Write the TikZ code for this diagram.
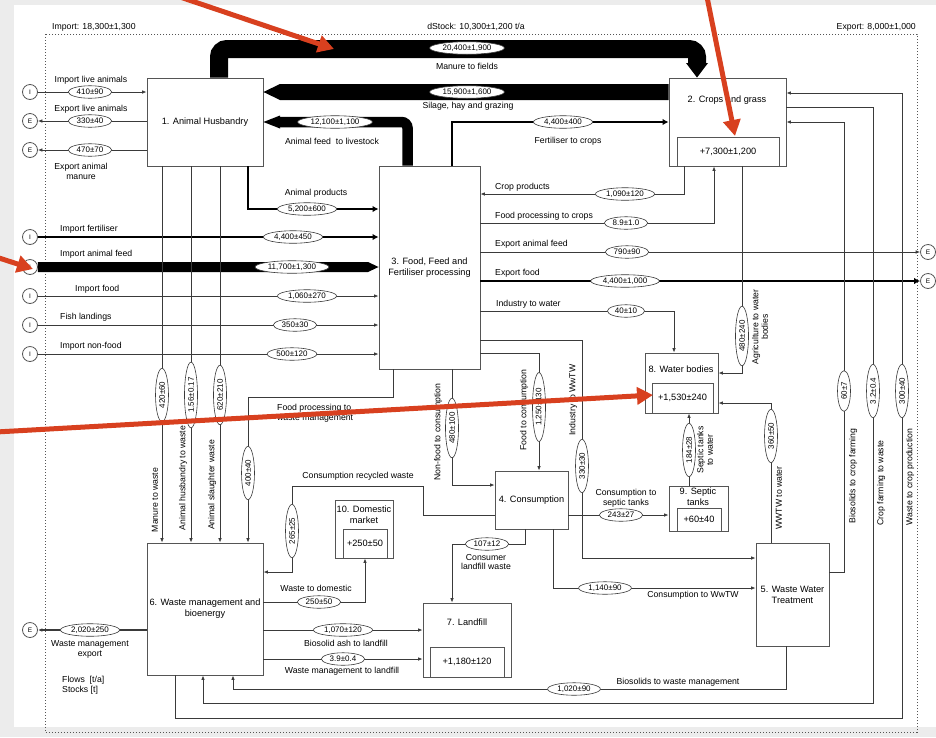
\documentclass[tikz,border=0pt]{standalone}
\usepackage{fontspec}
\setmainfont{Liberation Sans}
\usetikzlibrary{arrows.meta,shapes.geometric}
\definecolor{ln}{HTML}{3A3A3A}
\definecolor{bx}{HTML}{555555}
\definecolor{redc}{HTML}{D8401F}
\definecolor{bgc}{HTML}{ECECEC}
\newcommand\lblf{\fontsize{8}{8.5}\selectfont}
\newcommand\txtf{\fontsize{8.7}{9.6}\selectfont}
\newcommand\ntxf{\fontsize{9.2}{10.8}\selectfont}
\begin{document}
\begin{tikzpicture}[x=1pt,y=-1pt,
  box/.style={draw=bx, line width=0.9pt, fill=white, inner sep=0pt, font=\ntxf, align=center},
  circ/.style={circle, draw=bx, line width=0.8pt, minimum size=15pt, inner sep=0pt, font=\fontsize{6.5}{6.5}\selectfont, fill=white},
  fl/.style={draw=ln, line width=0.8pt},
  fla/.style={fl, -{Latex[length=4.5pt,width=3.6pt]}},
  flt/.style={draw=black, line width=2.6pt, -{Latex[length=6pt,width=6.5pt]}},
  lab/.style={ellipse, draw=ln, line width=0.6pt, fill=white, inner xsep=2pt, inner ysep=0pt, minimum height=12.5pt, font=\lblf},
  vlab/.style={lab, rotate=90, inner xsep=5.5pt, minimum height=13pt},
  tx/.style={font=\txtf, inner sep=0pt, align=center},
  vtx/.style={tx, rotate=90},
  redarr/.style={draw=redc, line width=5pt, -{Triangle[length=16pt,width=17pt]}}]
\useasboundingbox (0,0) rectangle (936,737);
\fill[bgc] (0,0) rectangle (936,737);
\fill[white] (14,5) rectangle (936,727);
\draw[bx, line width=0.9pt, dash pattern=on 1.2pt off 1.8pt] (45,34) rectangle (917,732);
% header
\node[tx, anchor=west] (himp) at (52,27) {Import: 18,300±1,300};
\node[tx] (hst) at (476,27) {dStock: 10,300±1,200 t/a};
\node[tx, anchor=east] (hexp) at (916,27) {Export: 8,000±1,000};
% boxes
\node[box, minimum width=116pt, minimum height=88pt] (n1) at (205,122) {1. Animal Husbandry};
\node[box, minimum width=117pt, minimum height=88pt] (n2) at (727.5,122) {};
\node[tx, font=\ntxf] (t2) at (727,100) {2. Crops and grass};
\node[box, minimum width=102pt, minimum height=29pt] (s2) at (728,151.5) {+7,300±1,200};
\node[box, minimum width=101pt, minimum height=203pt] (n3) at (429.5,267.5) {3. Food, Feed and\\Fertiliser processing};
\node[box, minimum width=73pt, minimum height=58pt] (n4) at (531.5,500) {4. Consumption};
\node[box, minimum width=73pt, minimum height=103pt] (n5) at (792.5,594.5) {5. Waste Water\\Treatment};
\node[box, minimum width=116pt, minimum height=132pt] (n6) at (205,609) {6. Waste management and\\bioenergy};
\node[box, minimum width=88pt, minimum height=74pt] (n7) at (467,640) {};
\node[tx, font=\ntxf] (t7) at (467,622) {7. Landfill};
\node[box, minimum width=74pt, minimum height=30pt] (s7) at (467,662) {+1,180±120};
\node[box, minimum width=73pt, minimum height=60pt] (n8) at (681.5,383) {};
\node[tx, font=\ntxf] (t8) at (681,369) {8. Water bodies};
\node[box, minimum width=61pt, minimum height=30pt] (s8) at (682.5,398) {+1,530±240};
\node[box, minimum width=59pt, minimum height=45pt] (n9) at (698.5,508.5) {};
\node[tx, font=\ntxf] (t9) at (698,497) {9. Septic\\tanks};
\node[box, minimum width=44pt, minimum height=23pt] (s9) at (699,519.5) {+60±40};
\node[box, minimum width=58pt, minimum height=58pt] (n10) at (364,529) {};
\node[tx, font=\ntxf] (t10) at (364,515) {10. Domestic\\market};
\node[box, minimum width=44pt, minimum height=29pt] (s10) at (365,543.5) {+250±50};
% circles
\node[circ] (iLive) at (30,92) {I};
\node[circ] (eLive) at (30,121) {E};
\node[circ] (eMan) at (30,150) {E};
\node[circ] (iFert) at (30,237) {I};
\node[circ] (iFeed) at (30,267) {I};
\node[circ] (iFood) at (30,296) {I};
\node[circ] (iFish) at (30,325) {I};
\node[circ] (iNon) at (30,354) {I};
\node[circ] (eWM) at (30,630) {E};
\node[circ] (eFeed) at (928,252) {E};
\node[circ] (eFood) at (928,281) {E};
% thick bands
\draw[black, line width=18pt, rounded corners=8pt] (219,0 |- n1.north) -- (219,49) -- (697,49) -- (697,64);
\fill[black] (686,63) -- (708,63) -- (697,0 |- n2.north) -- cycle;
\fill[black] (n2.west |- 0,84) -- (280,84) -- (n1.east |- 0,92) -- (280,100) -- (n2.west |- 0,100) -- cycle;
\draw[black, line width=10.5pt, rounded corners=6pt] (407.5,0 |- n3.north) -- (407.5,122) -- (279,122);
\fill[black] (280,115.5) -- (n1.east |- 0,122) -- (280,128.5) -- cycle;
\fill[black] (iFeed.east |- 0,262) -- (368,262) -- (n3.west |- 0,267) -- (368,272) -- (iFeed.east |- 0,272) -- cycle;
% medium flows
\draw[flt] (248,0 |- n1.south) |- (n3.west |- 0,209);
\draw[flt] (iFert) -- (n3.west |- iFert);
\draw[flt] (452,0 |- n3.north) |- (n2.west |- 0,122);
\draw[flt] (n3.east |- eFood) -- (eFood);
% thin flows left
\draw[fla] (iLive) -- (n1.west |- iLive);
\draw[fla] (n1.west |- eLive) -- (eLive);
\draw[fla] (n1.west |- eMan) -- (eMan);
\draw[fla] (iFood) -- (n3.west |- iFood);
\draw[fla] (iFish) -- (n3.west |- iFish);
\draw[fla] (iNon) -- (n3.west |- iNon);
\draw[fla] (162,0 |- n1.south) -- (162,0 |- n6.north);
\draw[fla] (191,0 |- n1.south) -- (191,0 |- n6.north);
\draw[fla] (220,0 |- n1.south) -- (220,0 |- n6.north);
\draw[fla] (393,0 |- n3.south) -- (393,397) -| (248,0 |- n6.north);
% node 3 right side
\draw[fla] (684,0 |- n2.south) |- (n3.east |- 0,194);
\draw[fla] (n3.east |- 0,223) -| (714,0 |- n2.south);
\draw[fla] (n3.east |- eFeed) -- (eFeed);
\draw[fla] (n3.east |- 0,311) -| (674,0 |- n8.north);
\draw[fla] (n3.east |- 0,340) -- (582,340) |- (n5.west |- 0,558);
\draw[fla] (n3.east |- 0,353) -| (539,0 |- n4.north);
\draw[fla] (452,0 |- n3.south) |- (n4.west |- 0,485);
% water
\draw[fla] (742,0 |- n2.south) |- (n8.east |- 0,373);
\draw[fla] (771,0 |- n5.north) |- (n8.east |- 0,403);
\draw[fla] (689,0 |- n9.north) -- (689,0 |- n8.south);
% consumption
\draw[fla] (n4.east |- 0,515) -- (n9.west |- 0,515);
\draw[fla] (553,0 |- n4.south) |- (n5.west |- 0,588);
\draw[fla] (525,0 |- n4.south) -- (525,544) -| (452,0 |- n7.north);
\draw[fla] (n4.west |- 0,515) -| (423,486) -| (292,572) -- (n6.east |- 0,572);
% waste management
\draw[fla] (n6.east |- 0,602) -| (365,0 |- n10.south);
\draw[fla] (n6.east |- 0,630) -- (n7.west |- 0,630);
\draw[fla] (n6.east |- 0,659) -- (n7.west |- 0,659);
\draw[fla, line width=1.4pt] (n6.west |- eWM) -- (eWM);
\draw[fla] (786,0 |- n5.south) |- (233,689) -- (233,0 |- n6.south);
\draw[fla] (n5.east |- 0,572) -| (844,122) -- (n2.east |- 0,122);
\draw[fla] (n2.east |- 0,107) -| (873,703) -| (203,0 |- n6.south);
\draw[fla] (175,0 |- n6.south) |- (902,718) |- (n2.east |- 0,93);
% labels horizontal
\node[lab] (l1) at (90,92) {410±90};
\node[lab] (l2) at (90,121) {330±40};
\node[lab] (l3) at (90,150) {470±70};
\node[lab] (l4) at (467,48) {20,400±1,900};
\node[lab] (l5) at (467,92) {15,900±1,600};
\node[lab] (l6) at (335,122) {12,100±1,100};
\node[lab] (l7) at (563,122) {4,400±400};
\node[lab] (l8) at (307,209) {5,200±600};
\node[lab] (l9) at (293,237) {4,400±450};
\node[lab] (l10) at (292,267) {11,700±1,300};
\node[lab] (l11) at (307,296) {1,060±270};
\node[lab] (l12) at (295,325) {350±30};
\node[lab] (l13) at (292,354) {500±120};
\node[lab] (l14) at (625,194) {1,090±120};
\node[lab] (l15) at (626,223) {8.9±1.0};
\node[lab] (l16) at (627,252) {790±90};
\node[lab] (l17) at (625,281) {4,400±1,000};
\node[lab] (l18) at (626,311) {40±10};
\node[lab] (l19) at (621,515) {243±27};
\node[lab] (l20) at (487,544) {107±12};
\node[lab] (l21) at (605,588) {1,140±90};
\node[lab] (l22) at (319,602) {250±50};
\node[lab] (l23) at (343,630) {1,070±120};
\node[lab] (l24) at (343,659) {3.9±0.4};
\node[lab] (l25) at (90,630) {2,020±250};
\node[lab] (l26) at (574,689) {1,020±90};
% labels vertical
\node[vlab] (v1) at (162,395) {420±60};
\node[vlab] (v2) at (191,395) {1.56±0.17};
\node[vlab] (v3) at (220,395) {620±210};
\node[vlab] (v4) at (248,473) {400±40};
\node[vlab] (v5) at (452,428) {480±100};
\node[vlab] (v6) at (539,407) {1,250±130};
\node[vlab] (v7) at (582,466) {330±30};
\node[vlab] (v8) at (292,531) {265±25};
\node[vlab] (v9) at (689,450) {184±28};
\node[vlab] (v10) at (742,336) {480±240};
\node[vlab] (v11) at (771,436) {360±50};
\node[vlab] (v12) at (844,391) {60±7};
\node[vlab] (v13) at (873,391) {3.2±0.4};
\node[vlab] (v14) at (902,391) {300±40};
% texts
\node[tx] (a1) at (91,80) {Import live animals};
\node[tx] (a2) at (91,109) {Export live animals};
\node[tx] (a3) at (81,171.5) {Export animal\\manure};
\node[tx] (a4) at (467,66) {Manure to fields};
\node[tx] (a5) at (468,106) {Silage, hay and grazing};
\node[tx] (a6) at (332,141) {Animal feed~ to livestock};
\node[tx] (a7) at (568,141) {Fertiliser to crops};
\node[tx] (a8) at (316,193) {Animal products};
\node[tx, anchor=west] (a9) at (60,229) {Import fertiliser};
\node[tx, anchor=west] (a10) at (60,254) {Import animal feed};
\node[tx, anchor=west] (a11) at (75,289) {Import food};
\node[tx, anchor=west] (a12) at (60,317) {Fish landings};
\node[tx, anchor=west] (a13) at (60,346) {Import non-food};
\node[tx, anchor=west] (a14) at (495,187) {Crop products};
\node[tx, anchor=west] (a15) at (495,216) {Food processing to crops};
\node[tx, anchor=west] (a16) at (495,244) {Export animal feed};
\node[tx, anchor=west] (a17) at (495,273) {Export food};
\node[tx, anchor=west] (a18) at (496,304) {Industry to water};
\node[tx, anchor=west, align=left] (a19) at (277,413.5) {Food processing to\\waste management};
\node[tx] (a20) at (358,476) {Consumption recycled waste};
\node[tx] (a21) at (626,498) {Consumption to\\septic tanks};
\node[tx] (a22) at (486,562) {Consumer\\landfill waste};
\node[tx] (a23) at (693,595) {Consumption to WwTW};
\node[tx] (a24) at (316,588) {Waste to domestic};
\node[tx] (a25) at (346,643) {Biosolid ash to landfill};
\node[tx] (a26) at (342,671) {Waste management to landfill};
\node[tx] (a27) at (678,682) {Biosolids to waste management};
\node[tx] (a28) at (90,649.5) {Waste management\\export};
\node[tx, anchor=west, align=left] (a29) at (62,685.5) {Flows~ [t/a]\\Stocks [t]};
% vertical texts
\node[vtx] (b1) at (155,500) {Manure to waste};
\node[vtx] (b2) at (183,478) {Animal husbandry to waste};
\node[vtx] (b3) at (212,485) {Animal slaughter waste};
\node[vtx] (b4) at (438,432) {Non-food to consumption};
\node[vtx] (b5) at (524,410) {Food to consumption};
\node[vtx] (b6) at (573,400) {Industry to WwTW};
\node[vtx] (b7) at (760,327) {Agriculture to water\\bodies};
\node[vtx] (b8) at (705,450) {Septic tanks\\to water};
\node[vtx] (b9) at (779,498) {WWTW to water};
\node[vtx] (b10) at (853,476) {Biosolids to crop farming};
\node[vtx] (b11) at (881,483) {Crop farming to waste};
\node[vtx] (b12) at (910,477) {Waste to crop production};
% red annotation arrows
\coordinate (r1s) at (180,-3);
\coordinate (r1e) at (334,49);
\draw[redarr] (r1s) -- (r1e);
\coordinate (r2s) at (707,-3);
\coordinate (r2e) at (735,136);
\draw[redarr] (r2s) -- (r2e);
\coordinate (r3s) at (-4,257);
\coordinate (r3e) at (33,269);
\draw[redarr] (r3s) -- (r3e);
\coordinate (r4s) at (-4,432);
\coordinate (r4e) at (653,395);
\draw[redarr] (r4s) -- (r4e);
\end{tikzpicture}
\end{document}
